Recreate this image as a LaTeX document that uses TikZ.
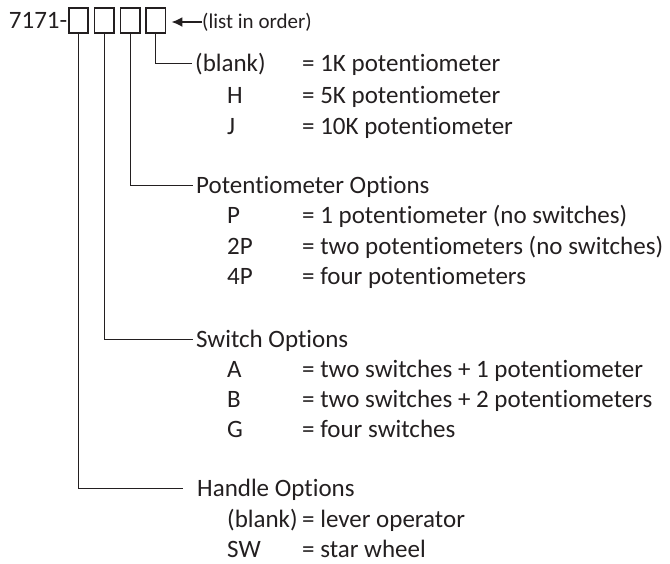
\documentclass[tikz,border=0pt]{standalone}
\usepackage{fontspec}
\setmainfont[Ligatures=NoCommon]{Carlito}
\usetikzlibrary{positioning,arrows.meta}
\definecolor{inkgray}{HTML}{231F20}

\begin{document}
\begin{tikzpicture}[x=1pt, y=-1pt,
  every node/.style={text=inkgray, font=\fontsize{25}{30}\selectfont},
  digit/.style={draw=inkgray, line width=1.6pt, minimum width=19.5pt, minimum height=24.5pt, inner sep=0pt},
  head/.style={anchor=west, inner xsep=3pt, inner ysep=0pt, text height=16pt, text depth=0pt},
  item/.style={anchor=west, inner sep=0pt, text height=16pt, text depth=0pt},
  lead/.style={draw=inkgray, line width=0.9pt}]
  \useasboundingbox (0,0) rectangle (670,563);
  % part number with its four option boxes
  \node (part) [anchor=base east, inner sep=0pt] at (67.5,28) {7171-};
  \node (d1) [digit] at (78.5,20.5) {};
  \node (d2) [digit, right=4.7pt of d1] {};
  \node (d3) [digit, right=4.7pt of d2] {};
  \node (d4) [digit, right=4.7pt of d3] {};
  \node (order) [anchor=west, inner sep=0pt, font=\fontsize{21}{25}\selectfont] at (202,22) {(list in order)};
  \draw[draw=inkgray, line width=1.8pt, -{Latex[length=11pt, width=10pt]}, shorten >=5pt] (order.west) -- (order.west -| d4.east);
  % headings
  \node (hdrA) [head] at (192,63) {(blank)};
  \node (hdrB) [head] at (193,185) {Potentiometer Options};
  \node (hdrC) [head] at (193,339) {Switch Options};
  \node (hdrD) [head, inner xsep=14pt] at (183,488) {Handle Options};
  \draw[lead] (d4.south) |- (hdrA.west);
  \draw[lead] (d3.south) |- (hdrB.west);
  \draw[lead] (d2.south) |- (hdrC.west);
  \draw[lead] (d1.south) |- (hdrD.west);
  % resistance
  \node (descA) [item] at (302,63) {= 1K potentiometer};
  \node (codeH) [item] at (227,95) {H};
  \node (descH) [item] at (302,95) {= 5K potentiometer};
  \node (codeJ) [item] at (227,126) {J};
  \node (descJ) [item] at (302,126) {= 10K potentiometer};
  % potentiometers
  \node (codeP) [item] at (227,215) {P};
  \node (descP) [item] at (302,215) {= 1 potentiometer (no switches)};
  \node (code2P) [item] at (227,246) {2P};
  \node (desc2P) [item] at (302,246) {= two potentiometers (no switches)};
  \node (code4P) [item] at (227,276) {4P};
  \node (desc4P) [item] at (302,276) {= four potentiometers};
  % switches
  \node (codeA) [item] at (227,369) {A};
  \node (descA2) [item] at (302,369) {= two switches + 1 potentiometer};
  \node (codeB) [item] at (227,399) {B};
  \node (descB) [item] at (302,399) {= two switches + 2 potentiometers};
  \node (codeG) [item] at (227,429) {G};
  \node (descG) [item] at (302,429) {= four switches};
  % handles
  \node (codeBl) [item] at (227,519) {(blank)};
  \node (descBl) [item] at (302,519) {= lever operator};
  \node (codeSW) [item] at (227,549) {SW};
  \node (descSW) [item] at (302,549) {= star wheel};
\end{tikzpicture}
\end{document}
